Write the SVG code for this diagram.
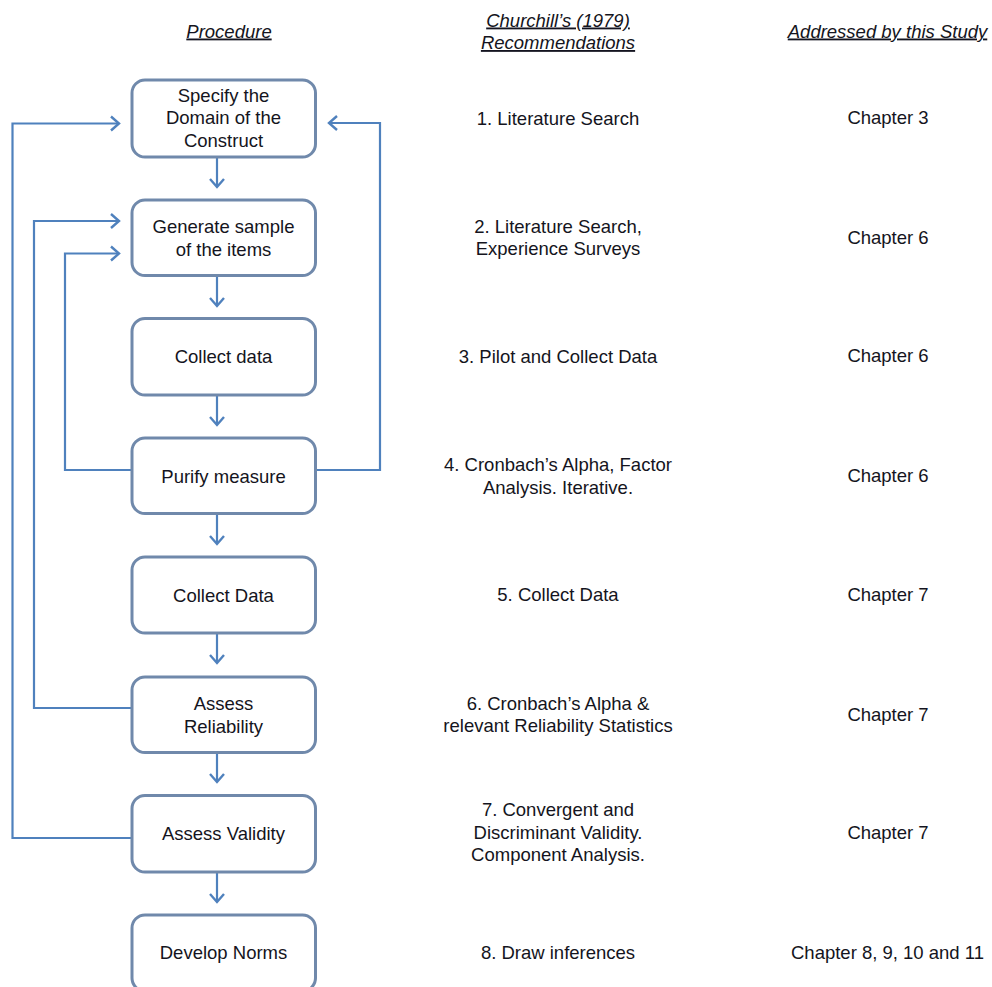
<svg xmlns="http://www.w3.org/2000/svg" width="992" height="987" viewBox="0 0 992 987">
  <style>
    text { font-family: "Liberation Sans", Arial, sans-serif; font-size: 18.5px; fill: #141420; text-anchor: middle; }
    .hdr { font-style: italic; text-decoration: underline; }
    .box { fill: #ffffff; stroke: #7089ab; stroke-width: 3; }
    .conn { fill: none; stroke: #4f81bd; stroke-width: 2.2; }
  </style>
  <defs>
    <marker id="arrow" markerUnits="userSpaceOnUse" markerWidth="20" markerHeight="20" viewBox="-10 -10 20 20" refX="0" refY="0" orient="auto">
      <path d="M-8,-7 L0,0 L-8,7" fill="none" stroke="#4f81bd" stroke-width="2.4" stroke-linejoin="miter"/>
    </marker>
  </defs>
  <rect width="992" height="987" fill="#ffffff"/>

  <!-- column headers -->
  <g id="headers">
    <text class="hdr" x="229" y="37.5">Procedure</text>
    <text class="hdr" x="558" y="26.5">Churchill’s (1979)</text>
    <text class="hdr" x="558" y="49">Recommendations</text>
    <text class="hdr" x="887.5" y="37.5">Addressed by this Study</text>
  </g>

  <!-- connectors -->
  <g id="connectors">
    <line class="conn" x1="217" y1="157" x2="217" y2="187" marker-end="url(#arrow)"/>
    <line class="conn" x1="217" y1="276" x2="217" y2="306" marker-end="url(#arrow)"/>
    <line class="conn" x1="217" y1="395" x2="217" y2="425" marker-end="url(#arrow)"/>
    <line class="conn" x1="217" y1="514" x2="217" y2="544" marker-end="url(#arrow)"/>
    <line class="conn" x1="217" y1="633" x2="217" y2="663" marker-end="url(#arrow)"/>
    <line class="conn" x1="217" y1="752" x2="217" y2="782" marker-end="url(#arrow)"/>
    <line class="conn" x1="217" y1="872" x2="217" y2="902" marker-end="url(#arrow)"/>
    <!-- feedback loops -->
    <polyline class="conn" points="132,838 12.5,838 12.5,123.5 119,123.5" marker-end="url(#arrow)"/>
    <polyline class="conn" points="132,708 34,708 34,221 119,221" marker-end="url(#arrow)"/>
    <polyline class="conn" points="132,470 65,470 65,253.5 119,253.5" marker-end="url(#arrow)"/>
    <polyline class="conn" points="316,470 380,470 380,123 329,123" marker-end="url(#arrow)"/>
  </g>

  <!-- procedure steps -->
  <g id="n1">
    <rect class="box" x="132" y="80" width="183.5" height="77" rx="13"/>
    <text x="223.5" y="101.5">Specify the</text>
    <text x="223.5" y="124.3">Domain of the</text>
    <text x="223.5" y="146.8">Construct</text>
  </g>
  <g id="n2">
    <rect class="box" x="132" y="200" width="183.5" height="75.5" rx="13"/>
    <text x="223.5" y="233">Generate sample</text>
    <text x="223.5" y="255.5">of the items</text>
  </g>
  <g id="n3">
    <rect class="box" x="132" y="318.5" width="183.5" height="76.5" rx="13"/>
    <text x="223.5" y="362.7">Collect data</text>
  </g>
  <g id="n4">
    <rect class="box" x="132" y="438" width="183.5" height="75.5" rx="13"/>
    <text x="223.5" y="482.5">Purify measure</text>
  </g>
  <g id="n5">
    <rect class="box" x="132" y="557" width="183.5" height="76" rx="13"/>
    <text x="223.5" y="601.5">Collect Data</text>
  </g>
  <g id="n6">
    <rect class="box" x="132" y="677" width="183.5" height="75.5" rx="13"/>
    <text x="223.5" y="709.5">Assess</text>
    <text x="223.5" y="732.5">Reliability</text>
  </g>
  <g id="n7">
    <rect class="box" x="132" y="795.5" width="183.5" height="76.5" rx="13"/>
    <text x="223.5" y="840">Assess Validity</text>
  </g>
  <g id="n8">
    <rect class="box" x="132" y="915" width="183.5" height="76" rx="13"/>
    <text x="223.5" y="959">Develop Norms</text>
  </g>

  <!-- recommendations column -->
  <g id="recommendations">
    <text x="558" y="124.5">1. Literature Search</text>
    <text x="558" y="232.5">2. Literature Search,</text>
    <text x="558" y="255">Experience Surveys</text>
    <text x="558" y="362.5">3. Pilot and Collect Data</text>
    <text x="558" y="471">4. Cronbach’s Alpha, Factor</text>
    <text x="558" y="493.5">Analysis. Iterative.</text>
    <text x="558" y="601">5. Collect Data</text>
    <text x="558" y="709.5">6. Cronbach’s Alpha &amp;</text>
    <text x="558" y="732">relevant Reliability Statistics</text>
    <text x="558" y="815.5">7. Convergent and</text>
    <text x="558" y="838.5">Discriminant Validity.</text>
    <text x="558" y="861">Component Analysis.</text>
    <text x="558" y="959">8. Draw inferences</text>
  </g>

  <!-- chapters column -->
  <g id="chapters">
    <text x="888" y="124">Chapter 3</text>
    <text x="888" y="244">Chapter 6</text>
    <text x="888" y="362">Chapter 6</text>
    <text x="888" y="482">Chapter 6</text>
    <text x="888" y="601">Chapter 7</text>
    <text x="888" y="721">Chapter 7</text>
    <text x="888" y="839">Chapter 7</text>
    <text x="887.5" y="959">Chapter 8, 9, 10 and 11</text>
  </g>
</svg>
